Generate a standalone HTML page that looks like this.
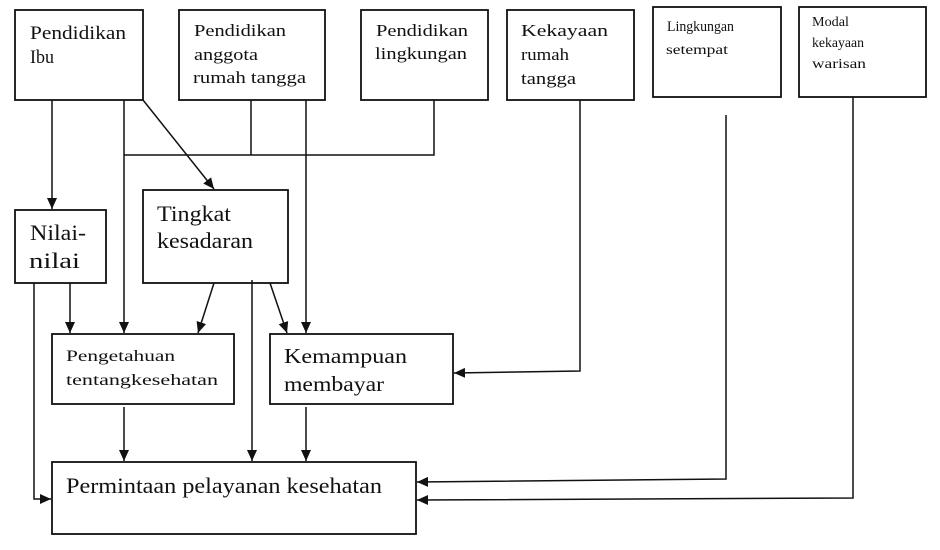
<!DOCTYPE html>
<html><head><meta charset="utf-8"><style>
html,body{margin:0;padding:0;background:#fff;width:940px;height:550px;overflow:hidden}
svg{display:block}
text{font-family:"Liberation Serif",serif;fill:#111}
</style></head><body>
<svg width="940" height="550" viewBox="0 0 940 550" xmlns="http://www.w3.org/2000/svg">
<defs>
<marker id="a" markerWidth="12" markerHeight="12" refX="11" refY="6" orient="auto" markerUnits="userSpaceOnUse">
<path d="M0,1 L11,6 L0,11 z" fill="#111"/></marker>
</defs>
<g fill="none" stroke="#111" stroke-width="1.8">
<rect x="15" y="10" width="128" height="90"/>
<rect x="179" y="10" width="146" height="90"/>
<rect x="361" y="10" width="127" height="90"/>
<rect x="507" y="10" width="127" height="90"/>
<rect x="653" y="7" width="128" height="90"/>
<rect x="799" y="7" width="127" height="90"/>
<rect x="15" y="210" width="91" height="73"/>
<rect x="143" y="190" width="145" height="93"/>
<rect x="52" y="334" width="182" height="70"/>
<rect x="270" y="334" width="183" height="70"/>
<rect x="52" y="462" width="364" height="72"/>
</g>
<g fill="none" stroke="#111" stroke-width="1.5">
<line x1="52" y1="100" x2="52" y2="209" marker-end="url(#a)"/>
<line x1="124" y1="100" x2="124" y2="333" marker-end="url(#a)"/>
<line x1="143" y1="100" x2="214" y2="189" marker-end="url(#a)"/>
<polyline points="124,155 434,155 434,100"/>
<line x1="251" y1="100" x2="251" y2="155"/>
<line x1="306" y1="100" x2="306" y2="333" marker-end="url(#a)"/>
<line x1="70" y1="283" x2="70" y2="333" marker-end="url(#a)"/>
<polyline points="34,283 34,499 51,499" marker-end="url(#a)"/>
<line x1="214" y1="283" x2="198" y2="333" marker-end="url(#a)"/>
<line x1="270" y1="283" x2="287" y2="333" marker-end="url(#a)"/>
<line x1="252" y1="280" x2="252" y2="461" marker-end="url(#a)"/>
<polyline points="580,100 580,371 454,373" marker-end="url(#a)"/>
<polyline points="726,115 726,479 417,482" marker-end="url(#a)"/>
<polyline points="853,97 853,498 417,500" marker-end="url(#a)"/>
<line x1="124" y1="407" x2="124" y2="461" marker-end="url(#a)"/>
<line x1="306" y1="407" x2="306" y2="461" marker-end="url(#a)"/>
</g>
<g lengthAdjust="spacingAndGlyphs">
<text x="30" y="39" font-size="19" textLength="96" lengthAdjust="spacingAndGlyphs">Pendidikan</text>
<text x="30" y="63" font-size="19" textLength="24" lengthAdjust="spacingAndGlyphs">Ibu</text>
<text x="194" y="36" font-size="17" textLength="92" lengthAdjust="spacingAndGlyphs">Pendidikan</text>
<text x="194" y="60" font-size="17" textLength="64" lengthAdjust="spacingAndGlyphs">anggota</text>
<text x="193" y="83" font-size="17" textLength="113" lengthAdjust="spacingAndGlyphs">rumah tangga</text>
<text x="376" y="36" font-size="17" textLength="92" lengthAdjust="spacingAndGlyphs">Pendidikan</text>
<text x="375" y="59" font-size="17" textLength="92" lengthAdjust="spacingAndGlyphs">lingkungan</text>
<text x="521" y="36" font-size="17" textLength="87" lengthAdjust="spacingAndGlyphs">Kekayaan</text>
<text x="521" y="60" font-size="17" textLength="48" lengthAdjust="spacingAndGlyphs">rumah</text>
<text x="521" y="84" font-size="17" textLength="55" lengthAdjust="spacingAndGlyphs">tangga</text>
<text x="667" y="31" font-size="15" textLength="67" lengthAdjust="spacingAndGlyphs">Lingkungan</text>
<text x="666" y="54" font-size="14" textLength="62" lengthAdjust="spacingAndGlyphs">setempat</text>
<text x="812" y="26" font-size="14" textLength="37" lengthAdjust="spacingAndGlyphs">Modal</text>
<text x="812" y="47" font-size="14" textLength="52" lengthAdjust="spacingAndGlyphs">kekayaan</text>
<text x="812" y="68" font-size="14" textLength="54" lengthAdjust="spacingAndGlyphs">warisan</text>
<text x="30" y="240" font-size="22" textLength="56" lengthAdjust="spacingAndGlyphs">Nilai-</text>
<text x="29" y="268" font-size="22" textLength="51" lengthAdjust="spacingAndGlyphs">nilai</text>
<text x="157" y="221" font-size="22" textLength="74" lengthAdjust="spacingAndGlyphs">Tingkat</text>
<text x="157" y="248" font-size="22" textLength="96" lengthAdjust="spacingAndGlyphs">kesadaran</text>
<text x="66" y="361" font-size="16" textLength="109" lengthAdjust="spacingAndGlyphs">Pengetahuan</text>
<text x="66" y="385" font-size="16" textLength="152" lengthAdjust="spacingAndGlyphs">tentangkesehatan</text>
<text x="284" y="363" font-size="21" textLength="123" lengthAdjust="spacingAndGlyphs">Kemampuan</text>
<text x="284" y="391" font-size="21" textLength="100" lengthAdjust="spacingAndGlyphs">membayar</text>
<text x="66" y="493" font-size="22" textLength="316" lengthAdjust="spacingAndGlyphs">Permintaan pelayanan kesehatan</text>
</g>
</svg>
</body></html>
